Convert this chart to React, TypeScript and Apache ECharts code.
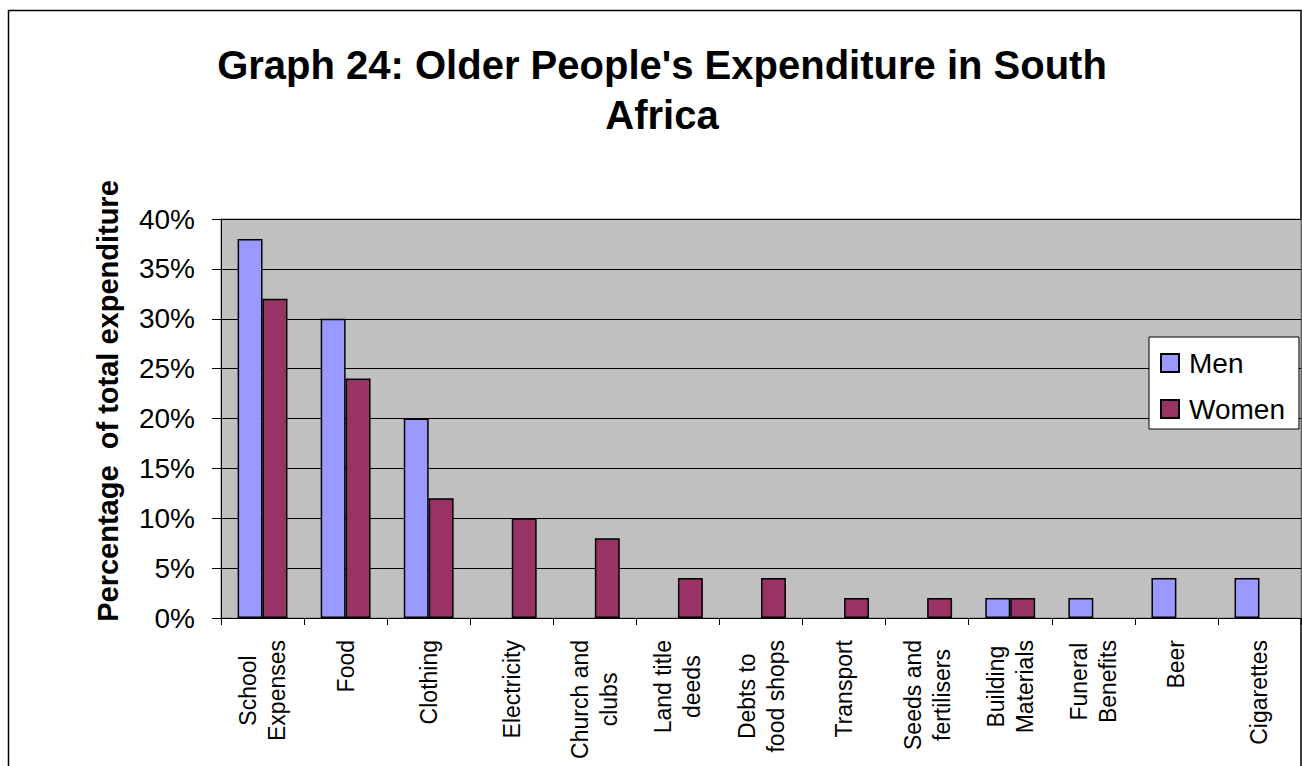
import React, { useEffect, useRef } from "react";
import * as echarts from "echarts";

const categories = [
  "School\nExpenses",
  "Food",
  "Clothing",
  "Electricity",
  "Church and\nclubs",
  "Land title\ndeeds",
  "Debts to\nfood shops",
  "Transport",
  "Seeds and\nfertilisers",
  "Building\nMaterials",
  "Funeral\nBenefits",
  "Beer",
  "Cigarettes",
];
const menValues = [0.38, 0.3, 0.2, 0, 0, 0, 0, 0, 0, 0.02, 0.02, 0.04, 0.04];
const womenValues = [0.32, 0.24, 0.12, 0.1, 0.08, 0.04, 0.04, 0.02, 0.02, 0.02, 0, 0, 0];
const seriesNames = ["Men", "Women"];
const titleText = "Graph 24: Older People's Expenditure in South\nAfrica";
const yAxisTitle = "Percentage  of total expenditure";

const FONT = 'Arial, "Liberation Sans", sans-serif';

const hideZero = (arr: number[]) => arr.map((v) => (v === 0 ? null : v));

export default function App() {
  const ref = useRef<HTMLDivElement>(null);
  useEffect(() => {
    if (!ref.current) return;
    const chart = echarts.init(ref.current, undefined, { renderer: "svg" });
    chart.setOption({
      animation: false,
      backgroundColor: "#ffffff",
      title: {
        text: titleText,
        left: 657,
        top: 35,
        textAlign: "center",
        textStyle: {
          fontFamily: FONT,
          fontSize: 40,
          fontWeight: "bold",
          color: "#000",
          lineHeight: 50,
        },
      },
      legend: {
        data: seriesNames,
        orient: "vertical",
        left: 1149,
        top: 337,
        padding: [12, 14, 6, 11],
        itemGap: 18,
        itemWidth: 18,
        itemHeight: 18,
        backgroundColor: "#ffffff",
        borderColor: "#000",
        borderWidth: 1,
        icon: "rect",
        textStyle: {
          fontFamily: FONT,
          fontSize: 28,
          color: "#000",
          lineHeight: 28,
          padding: [0, 0, 0, 5],
        },
      },
      graphic: [
        {
          type: "rect",
          silent: true,
          z: -10,
          shape: { x: 8.5, y: 10.5, width: 1292.5, height: 770 },
          style: { fill: "none", stroke: "#000", lineWidth: 1.5 },
        },
        {
          type: "text",
          x: 108,
          y: 401,
          rotation: Math.PI / 2,
          style: {
            text: yAxisTitle,
            fontFamily: FONT,
            fontSize: 29,
            fontWeight: "bold",
            fill: "#000",
            align: "center",
            verticalAlign: "middle",
          },
        },
      ],
      grid: {
        left: 221,
        right: 1,
        top: 219,
        height: 399,
        show: true,
        backgroundColor: "#c0c0c0",
        borderColor: "#808080",
        borderWidth: 1,
      },
      xAxis: {
        type: "category",
        data: categories,
        axisLine: { show: true, lineStyle: { color: "#000", width: 1 } },
        axisTick: { show: true, length: 7, lineStyle: { color: "#000" } },
        axisLabel: {
          interval: 0,
          rotate: 90,
          margin: 22,
          color: "#000",
          fontFamily: FONT,
          fontSize: 23,
          lineHeight: 29,
          formatter: (v: string) =>
            v
              .split("\n")
              .map((s) => `{c|${s}}`)
              .join("\n"),
          rich: {
            c: {
              align: "center",
              fontFamily: FONT,
              fontSize: 23,
              lineHeight: 29,
              color: "#000",
            },
          },
        },
      },
      yAxis: {
        type: "value",
        min: 0,
        max: 0.4,
        interval: 0.05,
        axisLine: { show: true, lineStyle: { color: "#000", width: 1 } },
        axisTick: { show: true, length: 9, lineStyle: { color: "#000" } },
        splitLine: { show: true, lineStyle: { color: "#000", width: 1 } },
        axisLabel: {
          margin: 26,
          color: "#000",
          fontFamily: FONT,
          fontSize: 28,
          formatter: (v: number) => `${Math.round(v * 100)}%`,
        },
      },
      series: [
        {
          name: seriesNames[0],
          type: "bar",
          data: hideZero(menValues),
          barGap: "0%",
          barCategoryGap: "40%",
          itemStyle: { color: "#9999ff", borderColor: "#000", borderWidth: 1.5 },
        },
        {
          name: seriesNames[1],
          type: "bar",
          data: hideZero(womenValues),
          barGap: "0%",
          barCategoryGap: "40%",
          itemStyle: { color: "#993366", borderColor: "#000", borderWidth: 1.5 },
        },
      ],
    });
    return () => chart.dispose();
  }, []);
  return (
    <div
      ref={ref}
      style={{ position: "fixed", left: 0, top: 0, width: 1302, height: 766 }}
    />
  );
}
